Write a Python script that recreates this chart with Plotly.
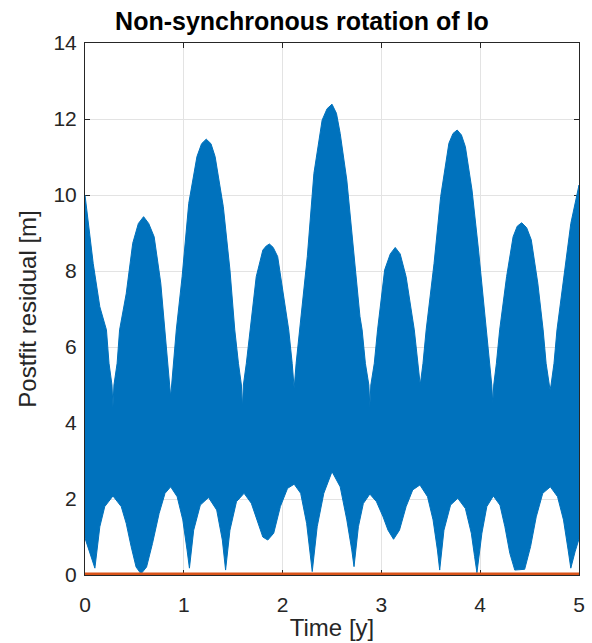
import plotly.graph_objects as go

# Upper envelope of the post-fit residual (time [y], residual [m])
upper_t = [0.0, 0.083, 0.15, 0.217, 0.243, 0.273, 0.283, 0.293, 0.325, 0.35,
           0.417, 0.483, 0.54, 0.593, 0.645, 0.70, 0.767, 0.81, 0.834, 0.857, 0.867,
           0.877, 0.90, 0.924, 0.983, 1.05, 1.133, 1.18, 1.227, 1.275, 1.317, 1.40,
           1.467, 1.516, 1.553, 1.583, 1.593, 1.603, 1.633, 1.67, 1.733, 1.80, 1.835,
           1.867, 1.905, 1.95, 2.017, 2.062, 2.097, 2.117, 2.137, 2.172, 2.25, 2.317,
           2.40, 2.45, 2.50, 2.545, 2.583, 2.65, 2.717, 2.783, 2.805, 2.838, 2.873,
           2.883, 2.893, 2.928, 2.961, 3.033, 3.09, 3.14, 3.19, 3.25, 3.333, 3.365,
           3.393, 3.421, 3.453, 3.533, 3.60, 3.683, 3.725, 3.767, 3.81, 3.85, 3.917,
           3.983, 4.05, 4.09, 4.117, 4.127, 4.137, 4.164, 4.197, 4.267, 4.333, 4.375,
           4.42, 4.47, 4.517, 4.583, 4.637, 4.667, 4.697, 4.707, 4.717, 4.747, 4.777,
           4.85, 4.917, 5.0]
upper_r = [10.0, 8.20, 7.06, 6.45, 5.57, 5.0, 4.43, 5.0, 5.57, 6.45,
           7.40, 8.73, 9.25, 9.43, 9.25, 8.90, 7.68, 6.45, 5.75, 5.0, 4.69,
           5.0, 5.75, 6.45, 7.85, 9.78, 11.01, 11.35, 11.47, 11.35, 11.01, 9.69,
           8.03, 6.45, 5.57, 5.0, 4.39, 5.0, 5.57, 6.45, 7.85, 8.55, 8.66,
           8.71, 8.62, 8.38, 7.15, 6.45, 5.57, 4.91, 5.57, 6.45, 8.38, 10.57,
           11.97, 12.27, 12.39, 12.15, 11.62, 10.39, 8.55, 6.80, 6.45, 5.57, 5.0,
           4.43, 5.0, 5.57, 6.45, 8.03, 8.45, 8.62, 8.45, 7.85, 6.45, 5.57,
           5.0, 5.57, 6.45, 8.20, 9.96, 11.36, 11.62, 11.71, 11.58, 11.27, 10.13,
           8.55, 6.80, 5.57, 5.0, 4.52, 5.0, 5.57, 6.45, 7.85, 8.90, 9.18,
           9.27, 9.14, 8.82, 7.68, 6.45, 5.57, 5.0, 4.87, 5.0, 5.57, 6.45,
           7.85, 9.25, 10.26]

# Lower envelope of the post-fit residual
lower_t = [0.0, 0.05, 0.10, 0.15, 0.20, 0.283, 0.367, 0.417, 0.467, 0.517, 0.567, 0.623, 0.683,
           0.75, 0.81, 0.867, 0.933, 0.99, 1.033, 1.057, 1.10, 1.167, 1.25, 1.333, 1.39,
           1.423, 1.467, 1.533, 1.61, 1.683, 1.75, 1.80, 1.85, 1.91, 1.977, 2.05, 2.117,
           2.183, 2.243, 2.277, 2.30, 2.35, 2.417, 2.50, 2.583, 2.65, 2.70, 2.723, 2.767,
           2.817, 2.883, 2.95, 3.017, 3.067, 3.123, 3.183, 3.25, 3.317, 3.39, 3.467,
           3.523, 3.567, 3.59, 3.633, 3.70, 3.773, 3.85, 3.91, 3.943, 3.967, 4.017,
           4.067, 4.133, 4.20, 4.25, 4.30, 4.35, 4.45, 4.51, 4.567, 4.633, 4.71, 4.783,
           4.843, 4.89, 4.917, 4.96, 5.0]
lower_r = [0.97, 0.57, 0.18, 1.27, 1.80, 2.08, 1.80, 1.36, 0.75, 0.21, 0.03, 0.21, 0.83,
           1.62, 2.15, 2.32, 2.06, 1.45, 0.66, 0.18, 1.18, 1.84, 2.04, 1.71, 0.92,
           0.13, 1.18, 1.93, 2.15, 1.89, 1.36, 1.00, 0.92, 1.10, 1.80, 2.28, 2.39,
           2.15, 1.36, 0.66, 0.09, 1.27, 2.15, 2.72, 2.32, 1.45, 0.66, 0.22, 1.27,
           1.88, 2.13, 1.93, 1.53, 1.18, 0.94, 1.18, 1.80, 2.24, 2.37, 2.06,
           1.45, 0.66, 0.13, 1.18, 1.84, 2.02, 1.75, 1.10, 0.49, 0.06, 1.10,
           1.80, 2.08, 1.84, 1.27, 0.57, 0.13, 0.15, 0.75, 1.53, 2.15, 2.32, 2.06,
           1.45, 0.66, 0.18, 0.61, 0.95]

# Second series: residual of the fitted (zero) model
fit_t = [0.0, 5.0]
fit_r = [0.0, 0.0]

x_ticks = [0, 1, 2, 3, 4, 5]
y_ticks = [0, 2, 4, 6, 8, 10, 12, 14]

BLUE = "#0072BD"
ORANGE = "#D95319"
AXC = "#262626"
FONT = "Liberation Sans, Arial, Helvetica, sans-serif"

band_x = upper_t + lower_t[::-1]
band_y = upper_r + lower_r[::-1]

fig = go.Figure()
fig.add_trace(go.Scatter(x=band_x, y=band_y, mode="lines", fill="toself",
                         fillcolor=BLUE, line=dict(color=BLUE, width=1),
                         hoverinfo="skip", showlegend=False))
fig.add_trace(go.Scatter(x=fit_t, y=fit_r, mode="lines",
                         line=dict(color=ORANGE, width=5), showlegend=False))

axis_common = dict(showline=True, linecolor=AXC, linewidth=1, mirror="ticks",
                   ticks="inside", ticklen=5, tickcolor=AXC, showgrid=True,
                   gridcolor="#e3e3e3", gridwidth=1, zeroline=False,
                   tickfont=dict(family=FONT, size=21, color=AXC),
                   layer="below traces")

fig.update_layout(
    width=592, height=643,
    margin=dict(l=85, r=7, t=43, b=68),
    paper_bgcolor="white", plot_bgcolor="white",
    title=dict(text="<b>Non-synchronous rotation of Io</b>", x=0.51, xanchor="center",
               xref="container", y=0.967, yanchor="middle",
               font=dict(family=FONT, size=25, color="black")),
    xaxis=dict(range=[0, 5], tickvals=x_ticks, ticklabelstandoff=11, **axis_common,
               title=dict(text="Time [y]", standoff=3,
                          font=dict(family=FONT, size=24, color=AXC))),
    yaxis=dict(range=[0, 14], tickvals=y_ticks, ticklabelstandoff=3, **axis_common,
               title=dict(text="Postfit residual [m]", standoff=10,
                          font=dict(family=FONT, size=24, color=AXC))),
)

fig.write_html("out.html", config={"displayModeBar": False},
               post_script="document.body.style.margin='0px';")
